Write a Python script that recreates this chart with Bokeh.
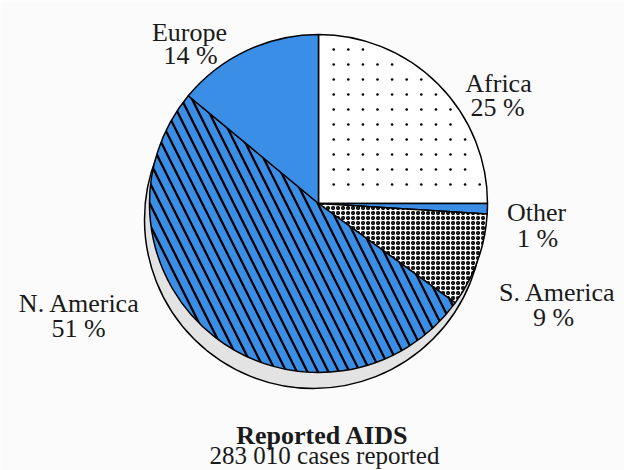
import math
import numpy as np
from bokeh.plotting import figure
from bokeh.models import ColumnDataSource
from bokeh.core.properties import value
from bokeh.embed import file_html
from bokeh.resources import INLINE

# ---- data ----
regions = ["Africa", "Other", "S. America", "N. America", "Europe"]
shares = [25, 1, 9, 51, 14]
title_line1 = "Reported AIDS"
title_line2 = "283 010 cases reported"

# ---- layout / style ----
W, H = 624, 470
CX, CY, R = 318, H - 203, 169
BLUE = "#3a8ee6"
fills = ["#ffffff", BLUE, "#ffffff", BLUE, BLUE]
hatches = [" ", " ", "ring", "left_diagonal_line", " "]
hscales = [1, 1, 5, 21, 1]
hweights = [1, 1, 1.6, 2.3, 1]
label_pos = {
    "Africa": (498, 83),
    "Other": (536, 212),
    "S. America": (557, 292),
    "N. America": (79, 303),
    "Europe": (189, 32),
}
pct_pos = {
    "Africa": (497, 107),
    "Other": (537, 238),
    "S. America": (553, 317),
    "N. America": (78, 328),
    "Europe": (190, 55),
}

# angles: start at top, clockwise
starts, ends = [], []
a = math.pi / 2
for s in shares:
    sweep = s / sum(shares) * 2 * math.pi
    starts.append(a - sweep)
    ends.append(a)
    a -= sweep

src = ColumnDataSource(dict(
    x=[CX] * len(regions), y=[CY] * len(regions),
    start=starts, end=ends, fill=fills, hatch=hatches,
    hscale=hscales, hweight=hweights,
))

p = figure(width=W, height=H, x_range=(0, W), y_range=(0, H),
           output_backend="svg", toolbar_location=None,
           min_border=0, background_fill_color="#fbfbfb",
           border_fill_color="#fbfbfb", outline_line_color=None)
p.axis.visible = False
p.grid.visible = False

# shadow (3D edge)
p.ellipse(x=CX - 5, y=CY - 16, width=2 * R, height=2 * R,
          fill_color="#e3e3e3", line_color="black", line_width=1.5)

p.wedge(x="x", y="y", radius=R, start_angle="start", end_angle="end",
        source=src, fill_color="fill", line_color="black", line_width=1.5,
        hatch_pattern="hatch", hatch_color="black", hatch_scale="hscale",
        hatch_weight="hweight")

# sparse dot texture inside the Africa slice (decorative fill pattern)
step_x, step_y = 14.6, 15.0
gx, gy = np.meshgrid(np.arange(CX - R, CX + R, step_x) + 9,
                     np.arange(CY - R, CY + R, step_y) + 8)
gx, gy = gx.ravel(), gy.ravel()
ang = np.arctan2(gy - CY, gx - CX)
rad = np.hypot(gx - CX, gy - CY)
inside = (ang > starts[0] + 0.03) & (ang < ends[0] - 0.03) & (rad < R - 6) \
    & (gx > CX + 4) & (gy > CY + 4)
p.scatter(gx[inside], gy[inside], size=2.6, color="black", line_color=None)

names = regions
lx = [label_pos[n][0] for n in names]
ly = [H - label_pos[n][1] for n in names]
px_ = [pct_pos[n][0] for n in names]
py_ = [H - pct_pos[n][1] for n in names]
pct_text = [f"{s} %" for s in shares]

font = value("Liberation Serif")
p.text(x=lx, y=ly, text=names, text_font=font, text_font_size="26px",
       text_align="center", text_baseline="alphabetic", text_color="#1a1a1a")
p.text(x=px_, y=py_, text=pct_text, text_font=font, text_font_size="26px",
       text_align="center", text_baseline="alphabetic", text_color="#1a1a1a")

p.text(x=[322], y=[H - 435], text=[title_line1], text_font=font,
       text_font_size="26px", text_font_style="bold", text_align="center",
       text_baseline="alphabetic", text_color="#1a1a1a")
p.text(x=[324], y=[H - 455], text=[title_line2], text_font=font,
       text_font_size="25px", text_align="center",
       text_baseline="alphabetic", text_color="#1a1a1a")

open("out.html", "w").write(file_html(p, INLINE))
